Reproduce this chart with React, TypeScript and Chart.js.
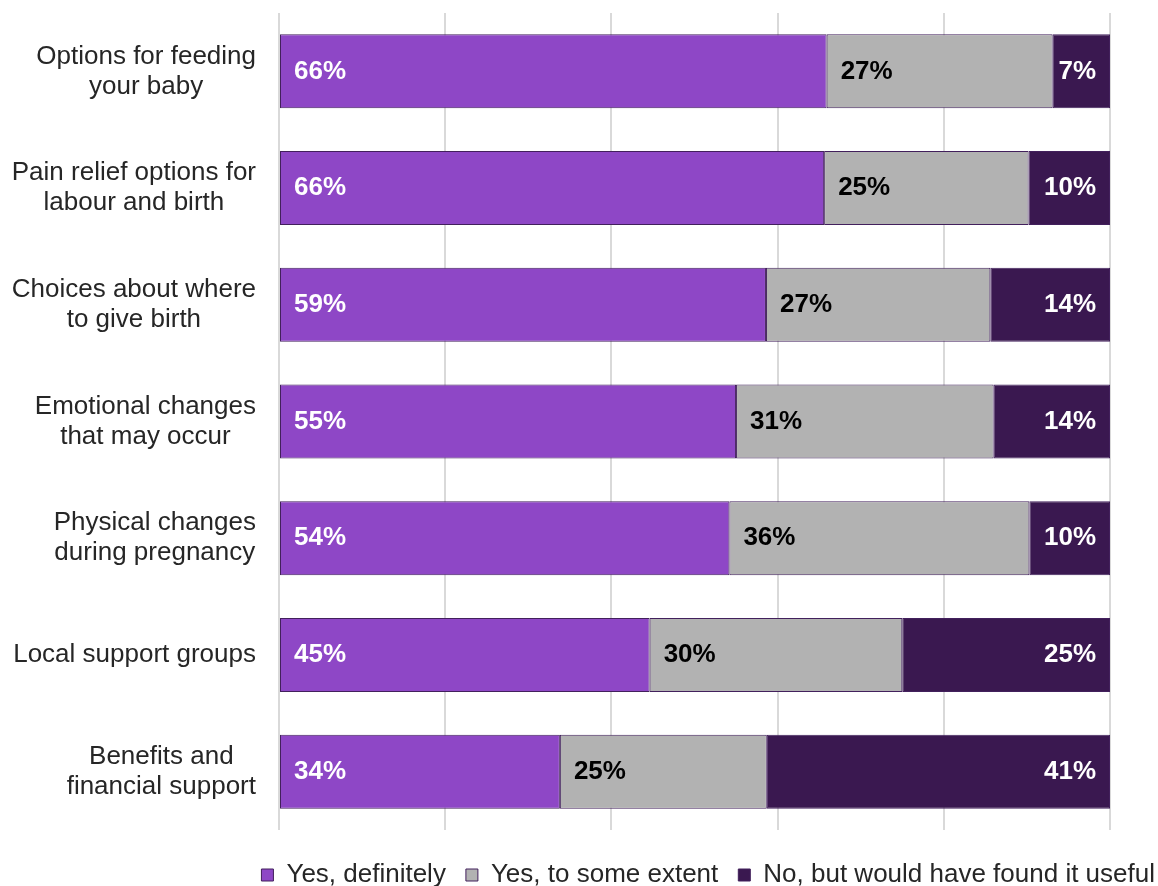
import { useEffect, useRef } from "react";
import { Chart, registerables } from "chart.js";

Chart.register(...registerables);

const categories: string[][] = [
  ["Options for feeding", "your baby"],
  ["Pain relief options for", "labour and birth"],
  ["Choices about where", "to give birth"],
  ["Emotional changes", "that may occur"],
  ["Physical changes", "during pregnancy"],
  ["Local support groups"],
  ["Benefits and", "financial support"],
];

const seriesNames = [
  "Yes, definitely",
  "Yes, to some extent",
  "No, but would have found it useful",
];

const definitely = [65.9, 65.6, 58.6, 55.0, 54.2, 44.6, 33.8];
const someExtent = [27.2, 24.6, 27.0, 31.0, 36.1, 30.4, 24.9];
const noUseful = [6.9, 9.8, 14.4, 14.0, 9.7, 25.0, 41.3];

const xMin = 0;
const xMax = 100;
const xStep = 20;

const seriesColors = ["#8e47c6", "#b2b2b2", "#3a1850"];
const labelColors = ["#ffffff", "#000000", "#ffffff"];
const FONT = "'Liberation Sans', Arial, sans-serif";

const categoryLabelPlugin = {
  id: "categoryLabels",
  afterDraw(chart: any) {
    const { ctx, chartArea } = chart;
    const yScale = chart.scales.y;
    ctx.save();
    ctx.font = `26px ${FONT}`;
    ctx.fillStyle = "#262626";
    ctx.textAlign = "center";
    ctx.textBaseline = "middle";
    const right = chartArea.left - 23;
    const lineH = 30;
    categories.forEach((lines, i) => {
      const widest = Math.max(...lines.map((l) => ctx.measureText(l).width));
      const cx = right - widest / 2;
      const cy = yScale.getPixelForValue(i);
      lines.forEach((line, j) => {
        ctx.fillText(line, cx, cy + (j - (lines.length - 1) / 2) * lineH);
      });
    });
    ctx.restore();
  },
};

const valueLabelPlugin = {
  id: "valueLabels",
  afterDatasetsDraw(chart: any) {
    const { ctx } = chart;
    ctx.save();
    ctx.font = `bold 26px ${FONT}`;
    ctx.textBaseline = "middle";
    chart.data.datasets.forEach((ds: any, di: number) => {
      const meta = chart.getDatasetMeta(di);
      ctx.fillStyle = labelColors[di];
      meta.data.forEach((el: any, i: number) => {
        const v = ds.data[i];
        const text = `${Math.round(v)}%`;
        const start = Math.min(el.base, el.x);
        const end = Math.max(el.base, el.x);
        if (di === 2) {
          ctx.textAlign = "right";
          ctx.fillText(text, end - 14, el.y);
        } else {
          ctx.textAlign = "left";
          ctx.fillText(text, start + 14, el.y);
        }
      });
    });
    ctx.restore();
  },
};

export default function App() {
  const canvasRef = useRef<HTMLCanvasElement | null>(null);

  useEffect(() => {
    if (!canvasRef.current) return;
    const values = [definitely, someExtent, noUseful];
    const chart = new Chart(canvasRef.current, {
      type: "bar",
      data: {
        labels: categories,
        datasets: values.map((data, i) => ({
          label: seriesNames[i],
          data,
          backgroundColor: seriesColors[i],
          borderColor: "#42205c",
          borderWidth: 1,
          borderSkipped: false,
          barPercentage: 0.634,
          categoryPercentage: 1,
        })),
      },
      options: {
        indexAxis: "y",
        responsive: false,
        animation: false,
        events: [],
        layout: { padding: { top: 13, left: 0, right: 0, bottom: 0 } },
        scales: {
          x: {
            type: "linear",
            stacked: true,
            min: xMin,
            max: xMax,
            ticks: { display: false, stepSize: xStep },
            grid: { color: "#d9d9d9", lineWidth: 2, drawTicks: false },
            border: { display: false },
            afterFit: (s: any) => {
              s.height = 12;
            },
          },
          y: {
            type: "category",
            stacked: true,
            ticks: { display: false },
            grid: { display: false, drawTicks: false },
            border: { display: false },
            afterFit: (s: any) => {
              s.width = 279;
            },
          },
          y2: {
            type: "linear",
            position: "right",
            ticks: { display: false },
            grid: { display: false, drawTicks: false },
            border: { display: false },
            afterFit: (s: any) => {
              s.width = 65;
            },
          },
        },
        plugins: {
          tooltip: { enabled: false },
          legend: {
            position: "bottom",
            align: "end",
            labels: {
              boxWidth: 12,
              boxHeight: 12,
              padding: 20,
              color: "#262626",
              font: { family: FONT, size: 26 },
            },
          },
        },
      },
      plugins: [categoryLabelPlugin, valueLabelPlugin],
    } as any);
    return () => chart.destroy();
  }, []);

  return (
    <div
      style={{
        position: "absolute",
        left: 0,
        top: 0,
        width: 1158,
        height: 886,
        overflow: "hidden",
        background: "#ffffff",
      }}
    >
      <canvas
        ref={canvasRef}
        width={1175}
        height={898}
        style={{ display: "block", width: 1175, height: 898 }}
      />
    </div>
  );
}
